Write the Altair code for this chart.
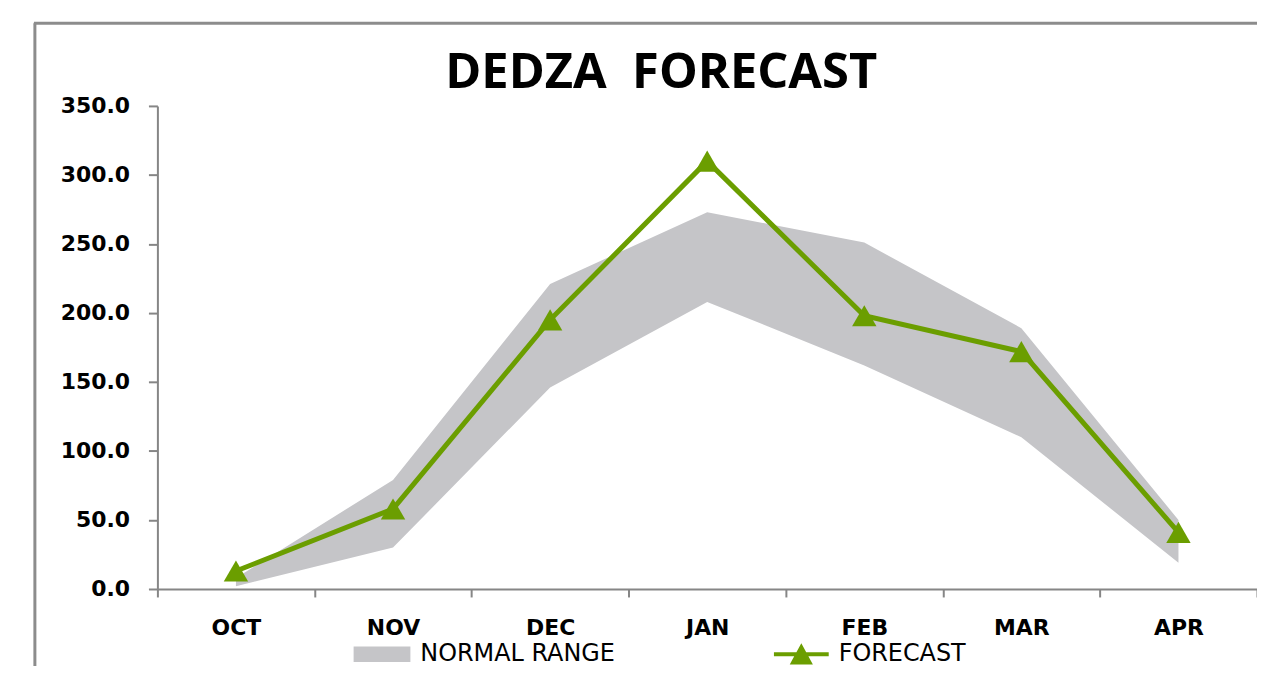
import altair as alt
import pandas as pd

months = ["OCT", "NOV", "DEC", "JAN", "FEB", "MAR", "APR"]
normal_low = [2, 30, 146, 208, 162, 110, 19]
normal_high = [8, 79, 221, 273, 251, 189, 50]
forecast = [13, 58, 195, 310, 198, 172, 41]
y_ticks = [0, 50, 100, 150, 200, 250, 300, 350]

GRAY_AXIS = "#868686"
AREA_GRAY = "#c5c5c8"
GREEN = "#6b9e00"

df = pd.DataFrame({
    "month": months,
    "low": normal_low,
    "high": normal_high,
    "forecast": forecast,
    "s1": ["NORMAL RANGE"] * len(months),
    "s2": ["FORECAST"] * len(months),
})

x_enc = alt.X(
    "month:N", sort=months, bandPosition=0.5,
    scale=alt.Scale(type="band", paddingInner=0, paddingOuter=0),
    axis=alt.Axis(title=None, tickBand="extent", labelAngle=0, grid=False,
                  labelFont="DejaVu Sans", labelFontSize=22, labelFontWeight="bold",
                  labelColor="#000000", labelPadding=21, tickSize=8,
                  tickColor=GRAY_AXIS, tickWidth=2, domainColor=GRAY_AXIS, domainWidth=2),
)
y_scale = alt.Scale(domain=[0, 350], nice=False, zero=True)
y_axis = alt.Axis(title=None, values=y_ticks, format=".1f", grid=False,
                  labelFont="DejaVu Sans", labelFontSize=22, labelFontWeight="bold",
                  labelColor="#000000", labelPadding=19, tickSize=9,
                  tickColor=GRAY_AXIS, tickWidth=2, domainColor=GRAY_AXIS, domainWidth=2)

area = alt.Chart(df).mark_area(opacity=1, line=False).encode(
    x=x_enc,
    y=alt.Y("low:Q", scale=y_scale, axis=y_axis),
    y2="high:Q",
    fill=alt.Fill("s1:N", scale=alt.Scale(domain=["NORMAL RANGE"], range=[AREA_GRAY]),
                  legend=alt.Legend(title=None, orient="none", legendX=197, legendY=522,
                                    padding=0, symbolType="M-1,-0.27H1V0.27H-1Z",
                                    symbolSize=3249, symbolStrokeWidth=0, symbolOpacity=1,
                                    labelFont="DejaVu Sans", labelFontSize=24,
                                    labelColor="#000000", labelOffset=10, labelLimit=400)),
)

line = alt.Chart(df).mark_line(strokeWidth=5).encode(
    x=x_enc,
    y=alt.Y("forecast:Q", scale=y_scale, axis=y_axis),
    stroke=alt.Stroke("s2:N", scale=alt.Scale(domain=["FORECAST"], range=[GREEN]),
                      legend=alt.Legend(title=None, orient="none", legendX=617, legendY=521,
                                        padding=0,
                                        symbolType="M-1,0H1M-0.3,0.3L0,-0.25L0.3,0.3Z",
                                        symbolSize=3025, symbolStrokeWidth=4,
                                        symbolFillColor=GREEN, symbolOpacity=1,
                                        labelFont="DejaVu Sans", labelFontSize=24,
                                        labelColor="#000000", labelOffset=8, labelLimit=400)),
)

points = alt.Chart(df).mark_point(shape="triangle-up", filled=True, size=600,
                                  color=GREEN, opacity=1).encode(
    x=x_enc,
    y=alt.Y("forecast:Q", scale=y_scale, axis=y_axis),
)

frame_df = pd.DataFrame({"k": [0]})
frame_left = alt.Chart(frame_df).mark_rule(color="#8c8c8c", strokeWidth=3).encode(
    x=alt.value(-123), y=alt.value(-83), y2=alt.value(600))
frame_top = alt.Chart(frame_df).mark_rule(color="#8c8c8c", strokeWidth=3).encode(
    x=alt.value(-124), x2=alt.value(1120), y=alt.value(-83))

chart = alt.layer(frame_left, frame_top, area, line, points).properties(
    width=1104,
    height=485,
    autosize=alt.AutoSizeParams(type="none"),
    padding={"left": 150, "top": 97, "right": 0, "bottom": 76},
    title=alt.TitleParams("DEDZA\u00a0 FORECAST", anchor="start", frame="group", dx=289,
                          dy=116, offset=0, font="Open Sans", fontSize=49, fontWeight="bold",
                          color="#000000", baseline="alphabetic"),
).configure(background="white").configure_view(stroke=None)

chart.save("out.html", embed_options={"renderer": "svg", "actions": False})
